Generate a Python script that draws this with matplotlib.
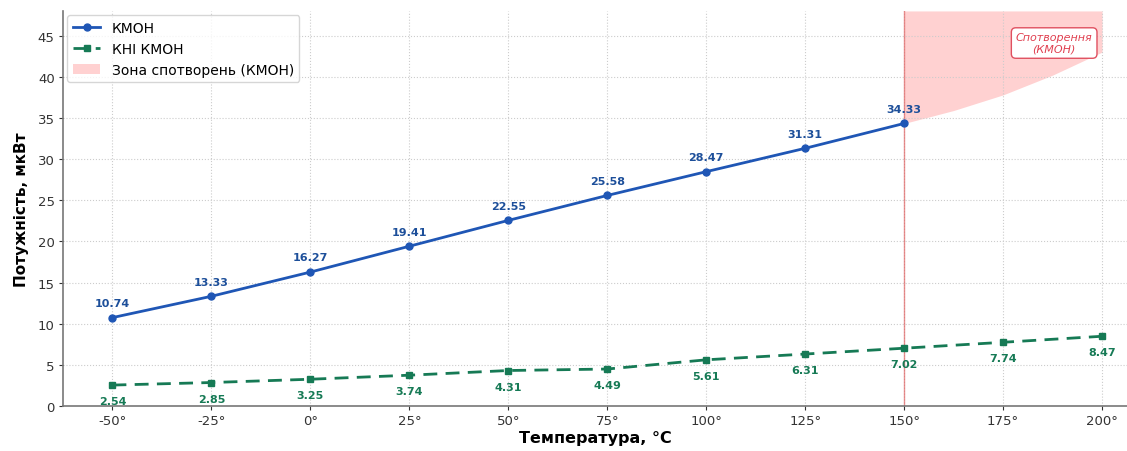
import numpy as np
import matplotlib.pyplot as plt

temps = [-50, -25, 0, 25, 50, 75, 100, 125, 150, 175, 200]
kmoh_t = [-50, -25, 0, 25, 50, 75, 100, 125, 150]
kmoh = [10.74, 13.33, 16.27, 19.41, 22.55, 25.58, 28.47, 31.31, 34.33]
khi = [2.54, 2.85, 3.25, 3.74, 4.31, 4.49, 5.61, 6.31, 7.02, 7.74, 8.47]
# distortion zone lower edge
zone_t = [150, 162.5, 175, 187.5, 200]
zone_low = [34.33, 35.9, 37.8, 40.2, 43.0]

blue = '#1f56b5'
blue_txt = '#1d4f9a'
green = '#167a55'

fig = plt.figure(figsize=(11.27, 4.52), dpi=100)
ax = fig.add_axes([0.0559, 0.0996, 0.9441, 0.874])

ax.fill_between(zone_t, zone_low, 48, color='#ffb3b3', alpha=0.6, lw=0,
                label='Зона спотворень (КМОН)')
ax.axvline(150, color='#e06060', lw=1, alpha=0.7)

ax.plot(kmoh_t, kmoh, '-o', color=blue, lw=2, ms=5, label='КМОН')
ax.plot(temps, khi, '--s', color=green, lw=2, ms=5, dashes=(5, 3), label='КНІ КМОН')

for t, v in zip(kmoh_t, kmoh):
    ax.annotate(f'{v:.2f}', (t, v), xytext=(0, 7), textcoords='offset points',
                ha='center', va='bottom', fontsize=8, fontweight='bold', color=blue_txt)
for t, v in zip(temps, khi):
    ax.annotate(f'{v:.2f}', (t, v), xytext=(0, -8), textcoords='offset points',
                ha='center', va='top', fontsize=8, fontweight='bold', color=green)

ax.text(187.9, 44.1, 'Спотворення\n(КМОН)', ha='center', va='center', fontsize=8,
        style='italic', color='#e04050',
        bbox=dict(boxstyle='round,pad=0.4', fc='white', ec='#e05060', lw=1))

ax.set_xlim(-62.5, 206.3)
ax.set_ylim(0, 48)
ax.set_xticks(temps)
ax.set_xticklabels([f'{t}°' for t in temps])
ax.set_yticks(range(0, 50, 5))
ax.tick_params(labelsize=9.5, colors='#333333', length=3, pad=3)
ax.grid(True, color='#cccccc', ls=':', lw=0.8)
for s in ['top', 'right']:
    ax.spines[s].set_visible(False)
for s in ['left', 'bottom']:
    ax.spines[s].set_color('#777777')
    ax.spines[s].set_linewidth(1.2)

ax.set_xlabel('Температура, °C', fontsize=11.5, fontweight='bold', labelpad=2)
ax.set_ylabel('Потужність, мкВт', fontsize=11, fontweight='bold', labelpad=6)

handles, labels = ax.get_legend_handles_labels()
order = [1, 2, 0]
ax.legend([handles[i] for i in order], [labels[i] for i in order], loc='upper left',
          fontsize=10, frameon=True, borderaxespad=0.3)

fig.savefig('out.png', dpi=100)
